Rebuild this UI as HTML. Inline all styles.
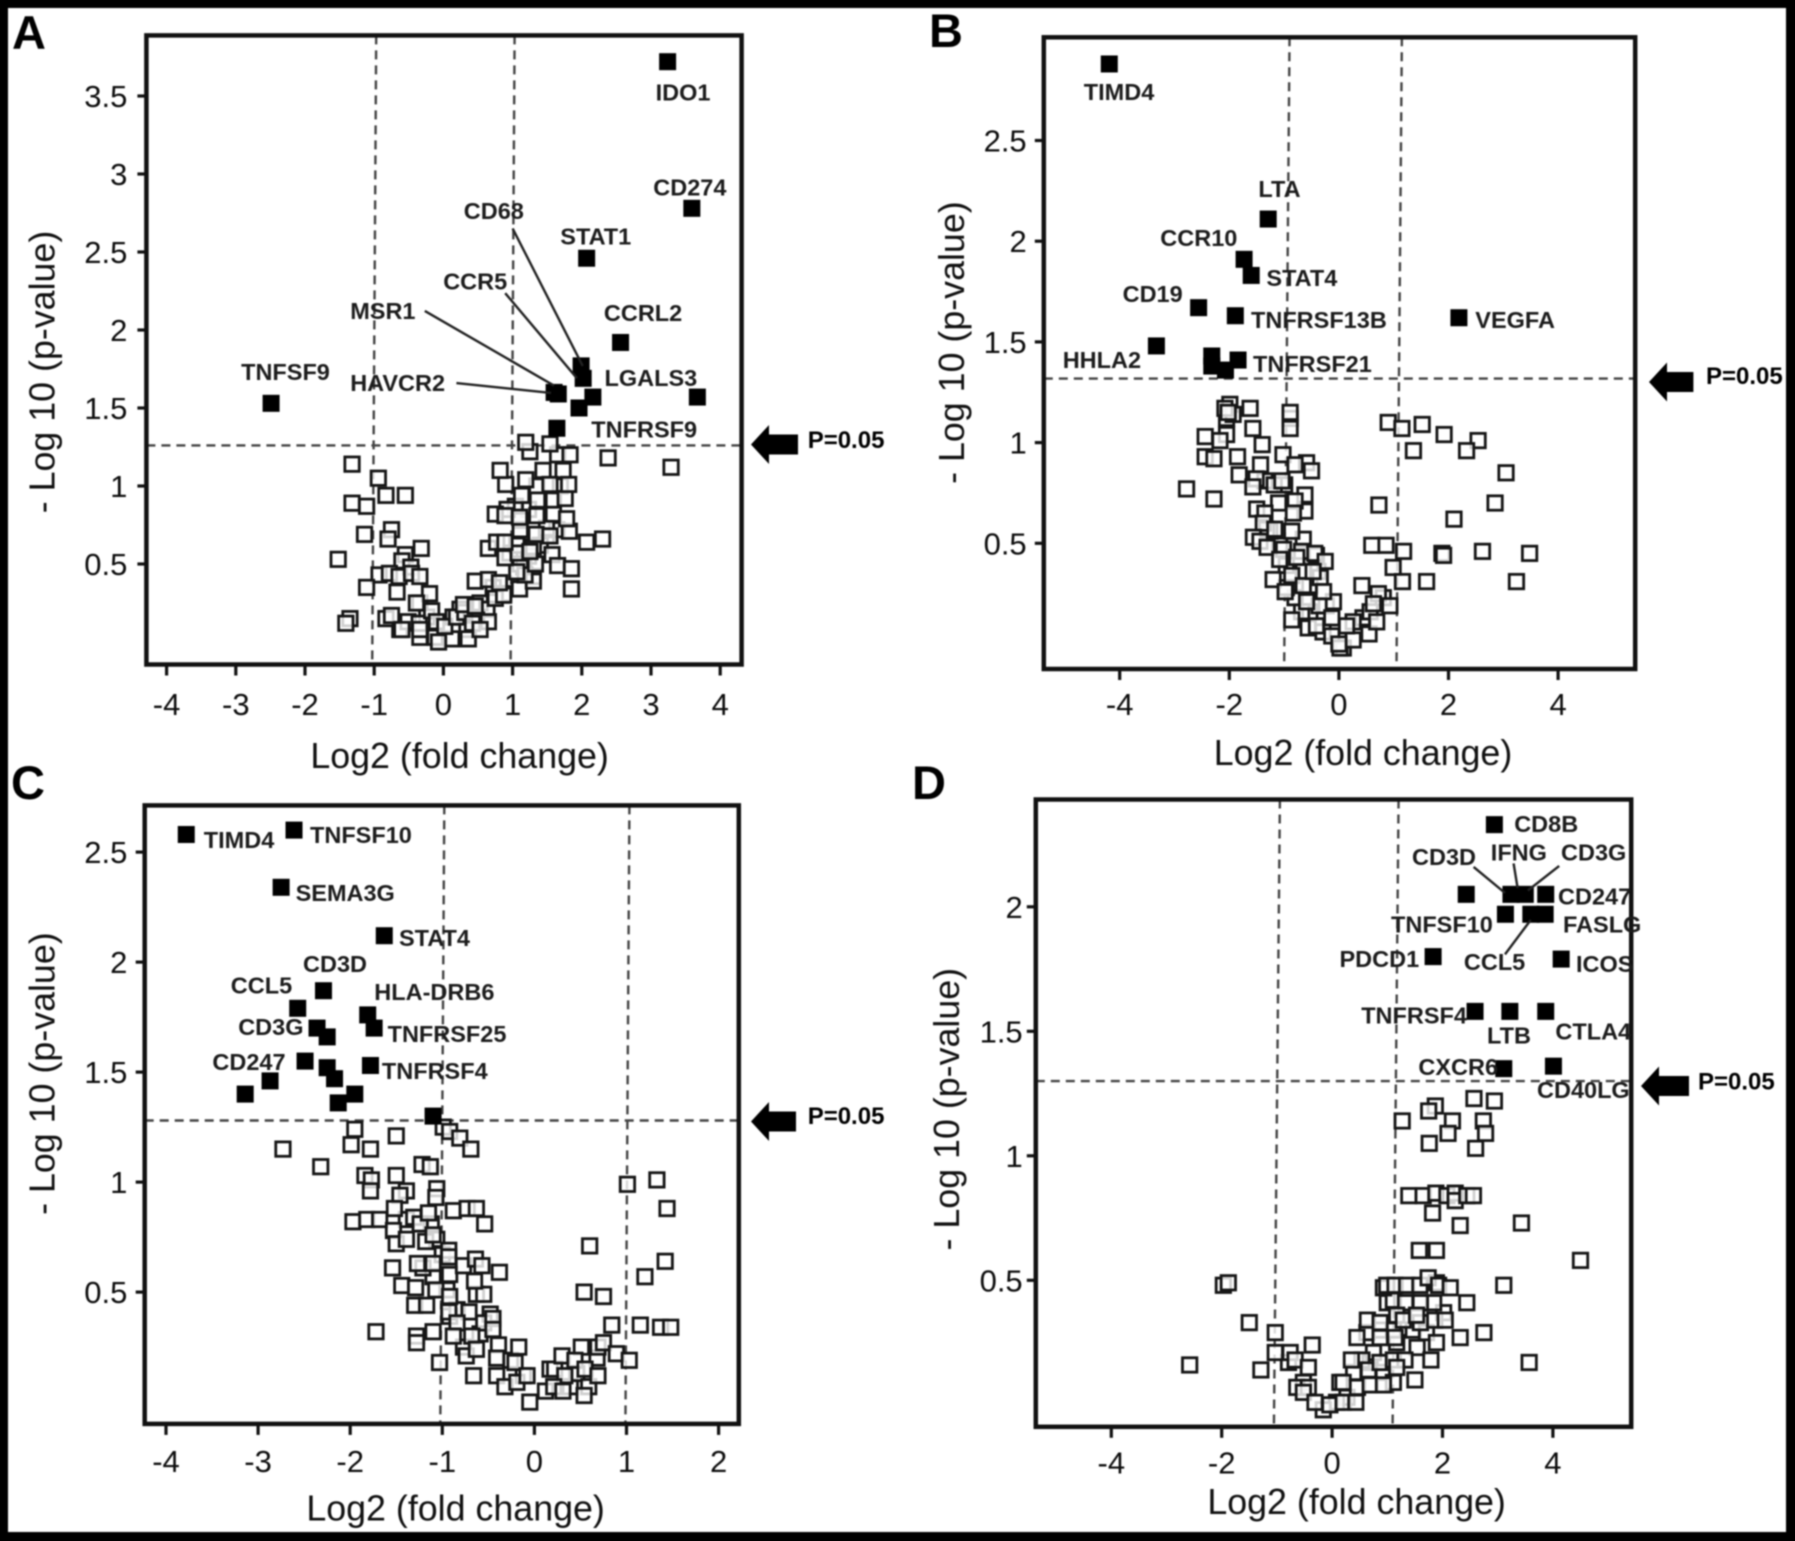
<!DOCTYPE html>
<html lang="en">
<head>
<meta charset="utf-8">
<title>Volcano plots of immune gene expression</title>
<style>
html,body{margin:0;padding:0;background:#000;}
body{width:1795px;height:1541px;overflow:hidden;}
svg{display:block;filter:blur(0.8px);font-family:"Liberation Sans",sans-serif;}
.gene{font-size:23.5px;font-weight:700;fill:#1c1c1c;}
.pval{font-size:24px;font-weight:700;fill:#000;}
.letter{font-size:47px;font-weight:700;fill:#000;}
.title{font-size:35.8px;fill:#111;}
.tick{font-size:31px;fill:#0d0d0d;}
.frame{fill:none;stroke:#111;stroke-width:4.5;}
.leader{stroke:#222;stroke-width:2.4;}
</style>
</head>
<body>
<svg id="figure" width="1795" height="1541" viewBox="0 0 1795 1541" xmlns="http://www.w3.org/2000/svg">
  <rect x="8" y="8" width="1778" height="1524" fill="#fff"/>

  <g id="panel-a">
    <text class="letter" x="12" y="49">A</text>
    <g id="panel-a-plot"></g>
    <text class="title" x="459.6" y="768" text-anchor="middle">Log2 (fold change)</text>
    <text class="title" transform="translate(54.5 372) rotate(-90)" text-anchor="middle">- Log 10 (p-value)</text>
    <line class="leader" x1="512.6" y1="228.4" x2="582.7" y2="365.9"/>
    <line class="leader" x1="505.2" y1="293.2" x2="576.9" y2="378.2"/>
    <line class="leader" x1="424.8" y1="310.9" x2="554" y2="385.6"/>
    <line class="leader" x1="456.4" y1="383.1" x2="551" y2="392.9"/>
    <text class="gene" x="655.6" y="100.7">IDO1</text>
    <text class="gene" x="653.3" y="195.5">CD274</text>
    <text class="gene" x="463.8" y="219">CD68</text>
    <text class="gene" x="560.3" y="244.6">STAT1</text>
    <text class="gene" x="443.2" y="289.3">CCR5</text>
    <text class="gene" x="603.9" y="321">CCRL2</text>
    <text class="gene" x="350.2" y="319">MSR1</text>
    <text class="gene" x="241.1" y="380">TNFSF9</text>
    <text class="gene" x="350.2" y="391">HAVCR2</text>
    <text class="gene" x="604.5" y="386">LGALS3</text>
    <text class="gene" x="591.3" y="437.5">TNFRSF9</text>
    <polygon points="751,444.5 769,425 769,434.5 798,434.5 798,454.5 769,454.5 769,464" fill="#000"/>
    <text class="pval" x="807.7" y="448">P=0.05</text>
  </g>

  <g id="panel-b">
    <text class="letter" x="929" y="47">B</text>
    <g id="panel-b-plot"></g>
    <text class="title" x="1363" y="765" text-anchor="middle">Log2 (fold change)</text>
    <text class="title" transform="translate(964 342.6) rotate(-90)" text-anchor="middle">- Log 10 (p-value)</text>
    <text class="gene" x="1083.8" y="100">TIMD4</text>
    <text class="gene" x="1258.4" y="197">LTA</text>
    <text class="gene" x="1160.3" y="246">CCR10</text>
    <text class="gene" x="1266.4" y="286">STAT4</text>
    <text class="gene" x="1122.6" y="302">CD19</text>
    <text class="gene" x="1251" y="328">TNFRSF13B</text>
    <text class="gene" x="1475.3" y="328">VEGFA</text>
    <text class="gene" x="1062.7" y="368">HHLA2</text>
    <text class="gene" x="1253" y="372">TNFRSF21</text>
    <polygon points="1649,382 1667,362.5 1667,372 1693.4,372 1693.4,392 1667,392 1667,401.5" fill="#000"/>
    <text class="pval" x="1706" y="384">P=0.05</text>
  </g>

  <g id="panel-c">
    <text class="letter" x="11" y="799">C</text>
    <g id="panel-c-plot"></g>
    <text class="title" x="455.6" y="1520.7" text-anchor="middle">Log2 (fold change)</text>
    <text class="title" transform="translate(54.5 1073.6) rotate(-90)" text-anchor="middle">- Log 10 (p-value)</text>
    <text class="gene" x="203.8" y="848">TIMD4</text>
    <text class="gene" x="310" y="843">TNFSF10</text>
    <text class="gene" x="295.6" y="901">SEMA3G</text>
    <text class="gene" x="399" y="946">STAT4</text>
    <text class="gene" x="303" y="972">CD3D</text>
    <text class="gene" x="230.8" y="993.5">CCL5</text>
    <text class="gene" x="374.3" y="1000">HLA-DRB6</text>
    <text class="gene" x="387.6" y="1042">TNFRSF25</text>
    <text class="gene" x="238.2" y="1035">CD3G</text>
    <text class="gene" x="212.4" y="1070">CD247</text>
    <text class="gene" x="381.9" y="1079">TNFRSF4</text>
    <polygon points="751,1121.5 769,1102 769,1111.5 796,1111.5 796,1131.5 769,1131.5 769,1141" fill="#000"/>
    <text class="pval" x="807.7" y="1124">P=0.05</text>
  </g>

  <g id="panel-d">
    <text class="letter" x="912" y="799">D</text>
    <g id="panel-d-plot"></g>
    <text class="title" x="1356.6" y="1513.8" text-anchor="middle">Log2 (fold change)</text>
    <text class="title" transform="translate(958.8 1109.2) rotate(-90)" text-anchor="middle">- Log 10 (p-value)</text>
    <line class="leader" x1="1473.6" y1="866.9" x2="1505" y2="892.9"/>
    <line class="leader" x1="1513.6" y1="863.4" x2="1517.6" y2="888"/>
    <line class="leader" x1="1559.2" y1="865.9" x2="1527.9" y2="890.5"/>
    <line class="leader" x1="1505" y1="954.4" x2="1530.7" y2="920"/>
    <text class="gene" x="1514.2" y="832">CD8B</text>
    <text class="gene" x="1490.8" y="860.5">IFNG</text>
    <text class="gene" x="1561" y="860.5">CD3G</text>
    <text class="gene" x="1412" y="865">CD3D</text>
    <text class="gene" x="1558" y="904.5">CD247</text>
    <text class="gene" x="1391" y="932.5">TNFSF10</text>
    <text class="gene" x="1563" y="932.5">FASLG</text>
    <text class="gene" x="1339.5" y="967">PDCD1</text>
    <text class="gene" x="1463.9" y="970">CCL5</text>
    <text class="gene" x="1576" y="972">ICOS</text>
    <text class="gene" x="1361.2" y="1023.5">TNFRSF4</text>
    <text class="gene" x="1555.4" y="1039.5">CTLA4</text>
    <text class="gene" x="1487" y="1043.5">LTB</text>
    <text class="gene" x="1418.4" y="1075">CXCR6</text>
    <text class="gene" x="1537" y="1098">CD40LG</text>
    <polygon points="1641,1086 1659,1066.5 1659,1076 1689,1076 1689,1096 1659,1096 1659,1105.5" fill="#000"/>
    <text class="pval" x="1698" y="1089.6">P=0.05</text>
  </g>
</svg>

<script>
// ---- Panel A data ----
const panelAXTicks = [-4,-3,-2,-1,0,1,2,3,4];
const panelAYTicks = [0.5,1,1.5,2,2.5,3,3.5];
const panelACutoff = [1.26];
const panelAFoldLines = [-1,1];
const panelAOpenX = [1.49,1.40,1.23,1.30,1.64,1.49,1.23,1.04,1.35,1.69,1.11,0.92,0.96,1.16,1.30,1.11,1.06,0.72,0.87,0.53,0.63,0.24,0.14,0.48,0.34,-0.34,-0.24,-0.34,-0.63,-1.32,-0.94,-0.83,-0.55,-1.32,-1.11,-1.14,-0.75,-0.80,-1.52,-0.32,-0.55,-0.60,-0.47,-0.93,-0.78,-0.64,-0.46,-0.34,-1.11,-0.67,-0.20,-0.39,-1.35,-1.41,-0.83,-0.75,-0.51,-0.60,-0.35,-0.17,-0.34,-0.10,0.12,-0.12,0.02,0.36,0.19,0.31,0.29,0.42,0.65,0.53,0.46,0.75,0.87,0.46,0.65,0.81,1.10,1.30,1.18,1.06,0.65,1.33,0.89,1.08,1.25,0.77,0.89,1.57,1.65,1.85,1.85,2.07,2.30,1.82,1.34,1.11,1.54,0.75,0.89,1.10,1.59,1.35,1.78,1.59,1.36,1.76,1.13,0.90,1.19,0.82,1.44,1.73,1.81,1.54,1.65,1.83,1.25,1.19,2.38,3.29,1.54,-0.07];
const panelAOpenY = [0.68,0.62,0.55,0.61,0.72,0.73,0.85,0.87,1.0,1.0,0.78,0.85,0.57,0.48,0.42,0.50,0.62,0.35,0.31,0.25,0.21,0.21,0.16,0.14,0.08,0.25,0.16,0.03,0.08,1.14,1.05,0.94,0.94,0.89,0.87,0.69,0.72,0.66,0.53,0.60,0.56,0.52,0.48,0.43,0.44,0.42,0.44,0.42,0.35,0.32,0.31,0.25,0.15,0.12,0.15,0.17,0.13,0.08,0.12,0.20,0.08,0.13,0.02,0.03,0.10,0.02,0.16,0.19,0.24,0.12,0.13,0.08,0.23,0.28,0.30,0.39,0.40,0.38,0.34,0.39,0.43,0.45,0.60,0.50,0.54,0.57,0.58,0.64,0.64,0.56,0.49,0.47,0.34,0.64,0.66,0.71,0.69,0.72,0.68,0.82,0.81,0.80,0.82,0.81,0.79,0.91,0.91,0.92,0.94,1.01,1.04,1.10,1.10,1.10,1.01,1.01,1.20,1.20,1.22,1.28,1.18,1.12,1.27,0.0];
const panelASigX = [3.24,3.59,2.07,2.56,1.99,2.02,2.16,1.96,3.67,1.64,1.60,1.66,-2.49];
const panelASigY = [3.72,2.78,2.46,1.92,1.77,1.69,1.57,1.50,1.57,1.37,1.60,1.59,1.53];

// ---- Panel B data ----
const panelBXTicks = [-4,-2,0,2,4];
const panelBYTicks = [0.5,1,1.5,2,2.5];
const panelBCutoff = [1.318];
const panelBFoldLines = [-0.95,1.10];
const panelBOpenX = [-0.23,-0.53,-0.29,0.44,0.08,0.57,0.81,-0.68,-0.80,-0.53,-0.96,-0.38,-0.65,-0.41,-0.96,-0.65,-1.08,-1.26,-1.99,-2.05,-1.93,-0.89,-1.02,-1.35,-0.99,-1.32,-2.08,-2.02,-1.62,-0.89,-0.89,0.90,1.15,1.52,1.92,2.54,2.33,1.36,3.05,2.85,2.10,0.73,-2.78,-2.28,-2.44,-2.05,-2.17,-2.44,-2.28,-1.57,-1.40,-1.85,-1.43,-1.82,-1.51,-1.57,-1.18,-1.04,-0.59,-0.50,-0.80,-0.62,-0.62,-0.80,-0.83,-1.10,-1.50,-1.35,-1.38,-1.17,-0.86,-1.56,-1.44,-1.31,-1.01,-1.08,-0.68,-0.44,-0.25,-0.77,-1.20,-0.86,-0.65,-0.34,-0.98,-0.36,-0.10,-0.86,-0.56,-0.41,-0.13,-0.13,0.02,0.26,0.26,0.55,0.69,0.42,0.72,0.63,0.93,0.60,0.86,1.18,0.99,1.16,1.60,1.88,1.91,2.62,3.24,3.48,-0.59,0.14,-0.47,-0.28,0.0];
const panelBOpenY = [0.19,0.16,0.06,0.13,-0.02,0.16,0.23,0.16,0.23,0.29,0.28,0.36,0.36,0.44,0.39,0.52,0.49,0.56,1.19,1.12,1.14,1.12,0.94,0.81,0.79,0.57,1.17,1.15,1.17,1.15,1.07,1.10,1.07,1.09,1.04,1.01,0.96,0.96,0.85,0.70,0.62,0.69,0.77,0.72,1.03,1.04,1.01,0.93,0.92,1.07,0.99,0.93,0.89,0.84,0.82,0.78,0.79,0.81,0.90,0.86,0.89,0.74,0.66,0.71,0.65,0.70,0.67,0.65,0.60,0.57,0.56,0.53,0.51,0.48,0.47,0.42,0.46,0.45,0.41,0.43,0.32,0.34,0.29,0.33,0.26,0.19,0.21,0.12,0.08,0.09,0.13,0.04,-0.02,0.11,0.02,0.05,0.11,0.29,0.25,0.20,0.19,0.49,0.49,0.46,0.38,0.31,0.31,0.45,0.44,0.46,0.31,0.45,0.21,0.09,0.36,0.26,0.0];
const panelBSigX = [-4.19,-1.29,-1.73,-1.60,-2.56,-1.89,2.19,-3.33,-2.32,-1.84,-2.32,-2.07];
const panelBSigY = [2.88,2.11,1.91,1.83,1.67,1.63,1.62,1.48,1.43,1.41,1.38,1.36];

// ---- Panel C data ----
const panelCXTicks = [-4,-3,-2,-1,0,1,2];
const panelCYTicks = [0.5,1,1.5,2,2.5];
const panelCCutoff = [1.28];
const panelCFoldLines = [-1,1.01];
const panelCOpenX = [-0.92,-0.84,-0.77,-0.48,-0.59,-0.26,-0.12,0.17,0.39,0.46,0.68,-1.0,-0.92,-1.10,-1.21,-1.12,-1.06,-1.39,-0.95,-0.55,-2.73,-2.32,-1.95,-1.99,-1.78,-1.50,-0.99,-0.92,-0.81,-0.69,-1.22,-1.13,-1.84,-1.77,-1.78,-1.50,-1.39,-1.46,-1.06,-1.07,1.01,1.33,1.44,-0.88,-0.73,-0.63,-0.54,-1.97,-1.82,-1.68,-1.52,-1.31,-1.24,-1.15,-1.53,-1.50,-1.39,-1.18,-1.10,-0.93,-0.93,-1.27,-1.54,-1.10,-0.77,-0.64,-0.57,-0.38,-1.44,-1.29,-1.07,-0.92,-0.63,-0.55,-0.65,-1.30,-1.17,-0.93,-0.71,-0.45,-0.45,-0.84,-1.72,-1.28,-1.28,-1.10,-0.88,-0.68,-1.03,-0.74,-0.63,-0.39,-0.41,-0.17,-0.21,-0.66,-0.41,-0.32,-0.19,-0.08,-0.05,0.12,0.22,0.30,0.33,0.21,0.31,0.51,0.44,0.55,0.59,0.54,0.69,0.69,0.75,0.84,0.89,1.03,1.15,1.37,1.48,1.20,1.42,0.60,0.54,0.75];
const panelCOpenY = [0.39,0.42,0.25,0.40,0.31,0.19,0.12,0.15,0.07,0.13,0.2,0.67,0.58,0.57,0.61,0.81,0.74,0.83,0.51,0.36,1.15,1.07,1.24,1.17,1.15,1.21,1.25,1.23,1.20,1.15,1.08,1.07,1.03,1.01,0.96,1.03,0.96,0.94,0.97,0.93,0.99,1.01,0.88,0.87,0.88,0.88,0.81,0.82,0.83,0.83,0.88,0.84,0.81,0.86,0.78,0.72,0.74,0.73,0.76,0.69,0.66,0.63,0.61,0.63,0.62,0.65,0.62,0.59,0.53,0.52,0.51,0.48,0.49,0.49,0.55,0.44,0.44,0.41,0.41,0.38,0.33,0.36,0.32,0.30,0.27,0.32,0.30,0.30,0.18,0.21,0.24,0.26,0.20,0.25,0.18,0.12,0.12,0.07,0.09,0.12,0.0,0.05,0.15,0.21,0.12,0.07,0.05,0.25,0.19,0.15,0.07,0.03,0.12,0.25,0.27,0.35,0.22,0.19,0.35,0.34,0.34,0.57,0.64,0.71,0.50,0.48];
const panelCSigX = [-3.78,-2.61,-2.75,-1.63,-2.29,-2.57,-1.81,-1.74,-2.36,-2.25,-2.49,-1.78,-2.25,-2.17,-2.87,-3.14,-1.95,-2.13,-1.10];
const panelCSigY = [2.58,2.60,2.34,2.12,1.87,1.79,1.76,1.70,1.70,1.66,1.55,1.53,1.52,1.47,1.46,1.40,1.40,1.36,1.30];

// ---- Panel D data ----
const panelDXTicks = [-4,-2,0,2,4];
const panelDYTicks = [0.5,1,1.5,2];
const panelDCutoff = [1.30];
const panelDFoldLines = [-1,1.15];
const panelDOpenX = [0.87,0.69,0.39,0.14,0.27,0.93,1.11,1.17,0.87,0.63,1.0,1.11,1.47,1.71,2.02,1.84,1.60,0.08,-0.16,-0.52,-0.64,-0.79,0.93,1.89,1.11,0.75,0.54,2.57,2.94,1.87,1.75,1.27,2.18,2.74,2.78,2.10,1.76,2.60,1.39,1.65,1.88,2.08,2.23,2.23,2.44,2.56,1.82,2.32,3.43,1.58,1.89,3.11,4.50,-1.97,-1.88,-1.50,-2.58,-1.03,-1.03,-1.29,-0.76,-0.67,-0.36,-0.43,-0.43,-0.52,-0.31,-0.04,0.20,0.43,0.20,0.46,0.35,0.45,0.64,0.87,0.87,0.66,0.87,0.69,0.93,1.11,0.99,1.14,1.35,1.59,1.74,1.93,2.14,2.44,1.33,1.60,1.17,1.29,1.53,1.86,2.05,1.14,1.54,1.89,2.32,2.75,1.32,1.79,1.50,3.57,1.17];
const panelDOpenY = [0.17,0.17,0.13,0.09,0.03,0.13,0.09,0.25,0.30,0.29,0.41,0.42,0.30,0.29,0.37,0.41,0.33,0.01,-0.02,0.09,0.07,0.17,0.47,0.49,0.30,0.21,0.18,1.23,1.22,1.20,1.18,1.14,1.14,1.14,1.09,1.09,1.05,1.03,0.84,0.84,0.85,0.84,0.85,0.82,0.84,0.84,0.77,0.72,0.73,0.62,0.62,0.48,0.58,0.48,0.49,0.33,0.16,0.29,0.21,0.14,0.21,0.18,0.24,0.15,0.07,0.05,0.01,0.0,0.01,0.01,0.09,0.07,0.18,0.27,0.34,0.33,0.27,0.14,0.17,0.08,0.08,0.18,0.48,0.48,0.48,0.48,0.51,0.48,0.47,0.41,0.41,0.41,0.36,0.34,0.36,0.34,0.34,0.27,0.23,0.25,0.27,0.29,0.18,0.18,0.10,0.17,0.15];
const panelDSigX = [2.94,2.43,3.24,3.50,3.87,3.14,3.60,3.86,1.83,4.15,2.59,3.22,3.87,3.11,4.01];
const panelDSigY = [2.33,2.05,2.05,2.05,2.05,1.97,1.97,1.97,1.80,1.79,1.58,1.58,1.58,1.35,1.36];

// ---- Layout of each plot frame (pixels) ----
const frameA = {left:146.4,right:741.6,top:35.4,bottom:664.5,x0:443.4,ux:69.2,y0:642,uy:156,labelRight:127.4,labelBase:715,tilt:2};
const frameB = {left:1043.8,right:1635.2,top:37.3,bottom:669,x0:1338.9,ux:54.8,y0:644,uy:201.4,labelRight:1026.7,labelBase:715,tilt:2.7};
const frameC = {left:144.7,right:738.8,top:805.4,bottom:1423.9,x0:534.4,ux:92.1,y0:1402.1,uy:220,labelRight:127.4,labelBase:1472,tilt:2};
const frameD = {left:1035.8,right:1631.2,top:799.5,bottom:1426.8,x0:1332.1,ux:55.2,y0:1404.8,uy:249,labelRight:1022.7,labelBase:1473.5,tilt:3};

const SVGNS = 'http://www.w3.org/2000/svg';

function scaleX(frame, v) { return frame.x0 + frame.ux * v; }
function scaleY(frame, v) { return frame.y0 - frame.uy * v; }

function setAttrs(el, attrs) {
  Object.keys(attrs).forEach(function (k) { el.setAttribute(k, attrs[k]); });
}

function drawPanel(hostId, frame, xTicks, yTicks, cutoff, foldLines, openX, openY, sigX, sigY) {
  const host = document.getElementById(hostId);

  foldLines.forEach(function (v) {
    const el = document.createElementNS(SVGNS, 'line');
    
    
    const px = scaleX(frame, v);
    setAttrs(el, {x1: px + frame.tilt, y1: frame.top, x2: px - frame.tilt, y2: frame.bottom,
      stroke: '#444', 'stroke-width': 2.4, 'stroke-dasharray': '9 6'});
    host.appendChild(el);
  });

  cutoff.forEach(function (v) {
    const el = document.createElementNS(SVGNS, 'line');
    
    
    const py = scaleY(frame, v);
    setAttrs(el, {x1: frame.left, y1: py, x2: frame.right, y2: py,
      stroke: '#444', 'stroke-width': 2.4, 'stroke-dasharray': '9 6'});
    host.appendChild(el);
  });

  openX.forEach(function (v, i) {
    const el = document.createElementNS(SVGNS, 'rect');
    
    
    setAttrs(el, {x: scaleX(frame, v) - 7.2, y: scaleY(frame, openY[i]) - 7.2, width: 14.4, height: 14.4,
      fill: '#fff', 'fill-opacity': 0.8, stroke: '#151515', 'stroke-width': 2.8});
    host.appendChild(el);
  });

  sigX.forEach(function (v, i) {
    const el = document.createElementNS(SVGNS, 'rect');
    
    
    setAttrs(el, {x: scaleX(frame, v) - 8.5, y: scaleY(frame, sigY[i]) - 8.5, width: 17, height: 17, fill: '#000'});
    host.appendChild(el);
  });

  const box = document.createElementNS(SVGNS, 'rect');
  
  
  setAttrs(box, {x: frame.left, y: frame.top, width: frame.right - frame.left, height: frame.bottom - frame.top});
  box.setAttribute('class', 'frame');
  host.appendChild(box);

  xTicks.forEach(function (v) {
    const px = scaleX(frame, v);
    const tick = document.createElementNS(SVGNS, 'line');
    
    
    setAttrs(tick, {x1: px, y1: frame.bottom, x2: px, y2: frame.bottom + 11, stroke: '#111', 'stroke-width': 3.2});
    host.appendChild(tick);
    const label = document.createElementNS(SVGNS, 'text');
    
    
    setAttrs(label, {x: px, y: frame.labelBase, 'text-anchor': 'middle'});
    label.setAttribute('class', 'tick');
    label.textContent = String(v);
    host.appendChild(label);
  });

  yTicks.forEach(function (v) {
    const py = scaleY(frame, v);
    const tick = document.createElementNS(SVGNS, 'line');
    
    
    setAttrs(tick, {x1: frame.left - 9, y1: py, x2: frame.left, y2: py, stroke: '#111', 'stroke-width': 3.2});
    host.appendChild(tick);
    const label = document.createElementNS(SVGNS, 'text');
    
    
    setAttrs(label, {x: frame.labelRight, y: py + 11, 'text-anchor': 'end'});
    label.setAttribute('class', 'tick');
    label.textContent = String(v);
    host.appendChild(label);
  });
}

drawPanel('panel-a-plot', frameA, panelAXTicks, panelAYTicks, panelACutoff, panelAFoldLines, panelAOpenX, panelAOpenY, panelASigX, panelASigY);
drawPanel('panel-b-plot', frameB, panelBXTicks, panelBYTicks, panelBCutoff, panelBFoldLines, panelBOpenX, panelBOpenY, panelBSigX, panelBSigY);
drawPanel('panel-c-plot', frameC, panelCXTicks, panelCYTicks, panelCCutoff, panelCFoldLines, panelCOpenX, panelCOpenY, panelCSigX, panelCSigY);
drawPanel('panel-d-plot', frameD, panelDXTicks, panelDYTicks, panelDCutoff, panelDFoldLines, panelDOpenX, panelDOpenY, panelDSigX, panelDSigY);
</script>
</body>
</html>
